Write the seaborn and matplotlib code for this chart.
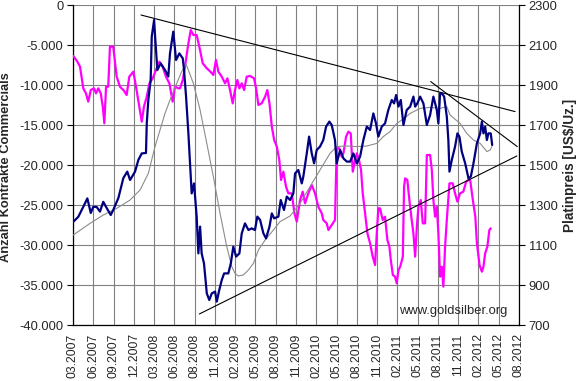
import matplotlib
matplotlib.use("Agg")
import matplotlib.pyplot as plt
import seaborn as sns
import numpy as np

sns.set_style("white")
plt.rcParams['font.family'] = ['Liberation Sans', 'DejaVu Sans']

# ---------------- data (x = week index; one tick label every 13 weeks) ----------------
tick_labels = ["03.2007", "06.2007", "09.2007", "12.2007", "03.2008", "06.2008", "08.2008",
               "11.2008", "02.2009", "05.2009", "08.2009", "11.2009", "02.2010", "05.2010",
               "08.2010", "11.2010", "02.2011", "05.2011", "08.2011", "11.2011", "02.2012",
               "05.2012", "08.2012"]
weeks_per_tick = 13

# Platinum price (right axis, US$/oz)
price_weeks = [0.2, 3.4, 6.6, 9.2, 11.4, 13.0, 15.2, 17.3, 19.4, 21.6, 24.2, 25.8, 29.1, 32.3,
               34.8, 36.6, 39.8, 41.9, 44.1, 46.8, 47.3, 48.3, 49.8, 50.5, 52.0, 52.8, 54.1,
               56.2, 59.0, 61.1, 62.2, 64.3, 66.1, 68.2, 70.4, 71.2, 72.5, 74.0, 76.1, 77.6,
               79.3, 80.4, 81.5, 82.5, 84.0, 85.8, 87.4, 89.0, 91.1, 92.2, 93.8, 95.4, 96.9,
               99.6, 101.2, 102.8, 104.6, 106.7, 108.2, 110.3, 112.5, 114.6, 116.7, 118.2,
               120.0, 122.1, 123.8, 126.0, 127.5, 129.0, 131.7, 133.2, 135.3, 137.1, 139.2,
               141.3, 142.4, 144.5, 146.7, 147.7, 149.9, 151.4, 153.1, 154.6, 156.3, 158.4,
               160.5, 162.3, 164.4, 165.9, 168.0, 169.1, 171.3, 173.4, 175.6, 177.7, 179.8,
               182.0, 184.1, 186.2, 188.4, 190.5, 192.6, 194.3, 195.8, 198.0, 200.1, 202.2,
               204.4, 205.9, 207.2, 208.7, 210.2, 211.9, 214.0, 216.2, 218.3, 219.4, 220.8,
               222.6, 224.7, 226.9, 229.0, 231.1, 233.3, 234.3, 235.4, 236.5, 238.0, 239.7,
               240.7, 241.4, 242.9, 245.0, 246.5, 247.8, 249.3, 251.5, 253.6, 255.1, 256.8,
               259.0, 261.1, 262.2, 263.2, 264.3, 265.4, 266.4, 267.9, 268.8]
price_values = [1216, 1241, 1291, 1333, 1260, 1291, 1290, 1267, 1316, 1285, 1250, 1275, 1335, 1435,
                1467, 1425, 1467, 1525, 1558, 1560, 1708, 1825, 1925, 2142, 2225, 2125, 1975,
                2008, 1975, 1942, 2058, 2167, 2025, 2058, 2033, 1975, 1842, 1658, 1358, 1408,
                1242, 1058, 1192, 1058, 1008, 858, 825, 858, 867, 817, 875, 925, 958,
                958, 1008, 1092, 1042, 1058, 1158, 1208, 1175, 1183, 1175, 1242,
                1225, 1158, 1133, 1192, 1258, 1233, 1242, 1325, 1275, 1342, 1325,
                1358, 1458, 1475, 1408, 1442, 1558, 1642, 1558, 1508, 1575, 1592,
                1625, 1692, 1717, 1700, 1625, 1508, 1575, 1533, 1517, 1517, 1558,
                1508, 1542, 1625, 1692, 1675, 1758, 1708, 1642, 1692, 1708, 1775,
                1825, 1808, 1850, 1792, 1825, 1700, 1775, 1792, 1842, 1792, 1808,
                1842, 1808, 1700, 1750, 1842, 1775, 1708, 1858, 1858, 1842, 1742,
                1625, 1467, 1525, 1592, 1658, 1642, 1567, 1508, 1433, 1442, 1508,
                1608, 1658, 1717, 1658, 1692, 1625, 1658, 1658, 1600]

# Moving average of the price (right axis)
ma_weeks = [0.2, 10.9, 19.4, 28.0, 36.6, 43.0, 48.3, 52.6, 55.8, 59.0, 62.2, 66.5, 69.7, 72.5,
            77.2, 81.5, 85.8, 90.0, 94.3, 98.6, 101.8, 103.9, 106.0, 109.2, 112.5, 115.7,
            118.9, 123.2, 128.5, 132.8, 139.2, 145.6, 152.0, 158.4, 164.8, 169.1, 175.6,
            182.0, 188.4, 194.8, 199.0, 203.3, 207.6, 211.9, 216.2, 222.6, 229.0, 235.4,
            239.7, 241.8, 248.2, 252.5, 256.8, 261.1, 265.4, 267.5, 268.6]
ma_values = [1150, 1208, 1250, 1283, 1325, 1375, 1458, 1592, 1675, 1758, 1825, 1908, 1967, 2005,
             1908, 1775, 1608, 1442, 1258, 1092, 992, 958, 945, 950, 975, 1008,
             1075, 1125, 1175, 1217, 1245, 1308, 1392, 1475, 1558, 1592, 1595,
             1592, 1595, 1608, 1642, 1667, 1708, 1730, 1758, 1783, 1788, 1783,
             1792, 1750, 1708, 1658, 1625, 1608, 1567, 1575, 1592]

# Net position of commercials (left axis, contracts)
comm_weeks = [0.2, 2.8, 4.5, 6.6, 8.3, 9.8, 11.4, 13.5, 14.8, 16.2, 17.8, 19.1, 20.1, 21.2, 22.6,
              23.7, 25.8, 28.0, 30.1, 32.3, 34.4, 36.1, 38.7, 40.4, 42.5, 44.1, 45.5, 47.3,
              49.0, 51.1, 53.2, 55.4, 57.5, 59.6, 61.8, 63.9, 65.4, 67.5, 68.6, 70.4, 71.8,
              74.0, 75.5, 77.2, 79.3, 81.0, 83.2, 85.8, 88.1, 90.0, 91.7, 93.2, 95.4, 97.5,
              99.0, 100.7, 102.4, 103.9, 105.4, 106.7, 108.2, 109.7, 111.4, 113.5, 116.1,
              117.4, 118.9, 121.0, 123.2, 124.6, 126.0, 127.5, 129.0, 130.7, 132.3, 133.4,
              134.9, 136.6, 138.1, 140.3, 142.0, 143.5, 145.6, 147.3, 148.8, 150.9, 153.1,
              155.2, 157.3, 159.5, 160.5, 162.7, 163.8, 165.9, 168.0, 169.1, 170.8, 172.3,
              173.4, 175.1, 176.6, 178.1, 179.4, 180.9, 182.0, 183.4, 184.7, 185.8, 187.3,
              188.8, 190.5, 192.2, 193.7, 194.8, 195.8, 196.9, 198.6, 200.1, 201.6, 202.9,
              203.8, 205.1, 206.5, 207.6, 208.7, 209.8, 210.4, 211.5, 212.3, 213.0, 214.4,
              215.7, 217.2, 218.3, 219.4, 220.5, 221.5, 223.0, 224.3, 225.8, 226.9, 229.0,
              230.1, 231.1, 232.2, 233.3, 234.3, 235.4, 236.5, 237.5, 238.6, 239.7, 241.4,
              243.5, 245.0, 246.5, 248.2, 250.3, 252.1, 253.6, 254.7, 256.4, 258.0, 259.0,
              260.7, 262.2, 263.2, 264.3, 265.7, 267.0, 267.9]
comm_values = [-6375, -7083, -7708, -10417, -11042, -12083, -10625, -10417, -11042, -10417, -11042,
               -12708, -14792, -10208, -10208, -5208, -5208, -8958, -10208, -10625, -11250, -8958,
               -8333, -10208, -12708, -14583, -12708, -11458, -9792, -9167, -8125, -7083, -7708,
               -8958, -9792, -12083, -10208, -10417, -10417, -9375, -7708, -4792, -3125, -3750,
               -3750, -5208, -7292, -7917, -8333, -8750, -6875, -8333, -8958, -9792, -9167,
               -10625, -12292, -10625, -9375, -10417, -9792, -10625, -8958, -8875, -9167,
               -10417, -12500, -12292, -11458, -10625, -12292, -15208, -16875, -17708, -19375,
               -21875, -20833, -22708, -23542, -23542, -26042, -27083, -24375, -23333, -24792,
               -23542, -22500, -23542, -25208, -26042, -26875, -27292, -28125, -27500, -26875,
               -17917, -17917, -18958, -18542, -16458, -15833, -16042, -20833, -19375, -18542,
               -19375, -20625, -23542, -26042, -28542, -29792, -31458, -32500, -28542, -25417,
               -25417, -26875, -26458, -29375, -30208, -31875, -33750, -33958, -34792, -33125,
               -32708, -32292, -31458, -22708, -21667, -21875, -24375, -26875, -28542, -31458,
               -27708, -25208, -24375, -27292, -27292, -18750, -18750, -20625, -24375, -26458,
               -25208, -28542, -33958, -32708, -35208, -30208, -26875, -22292, -22292, -23542,
               -24583, -23542, -23333, -22083, -21875, -21875, -24375, -26458, -29792, -32500,
               -33333, -32708, -31042, -30208, -28125, -27917]

# Trend lines (price axis): start/end week and price
trend_upper_weeks, trend_upper_prices = [43.6, 283.5], [2250, 1767]
trend_lower_weeks, trend_lower_prices = [81.0, 284.6], [755, 1545]
trend_short_weeks, trend_short_prices = [229.4, 284.9], [1917, 1592]

# ---------------- figure ----------------
W, H = 577, 381
fig = plt.figure(figsize=(W / 100, H / 100), dpi=100)
ax = fig.add_axes([73 / W, 1 - 325 / H, 446 / W, 320 / H])
ax2 = ax.twinx()

FS = 9.3
grid_c = "#808080"

# left axis: commercials
sns.lineplot(x=comm_weeks, y=comm_values, ax=ax, color="#FF00FF", linewidth=1.6,
             estimator=None, sort=False, legend=False, zorder=3)
ax.set_ylim(-40000, 0)
ax.set_yticks(np.arange(-40000, 1, 5000))
ax.set_yticklabels([f"{v:,.0f}".replace(",", ".") for v in np.arange(-40000, 1, 5000)],
                   fontsize=FS)
n_ticks = len(tick_labels)
xt = np.arange(n_ticks) * weeks_per_tick
ax.set_xlim(0, xt[-1])
ax.set_xticks(xt)
ax.set_xticklabels(tick_labels, rotation=90, fontsize=8.7)
ax.grid(True, color=grid_c, linewidth=0.8)
ax.set_axisbelow(True)
ax.tick_params(axis="y", direction="out", length=4, width=0.8, color="black", pad=3)
ax.tick_params(axis="x", direction="out", length=4, width=0.8, color="black", pad=2)
ax.set_ylabel("")
ax.set_xlabel("")

# right axis: price
sns.lineplot(x=ma_weeks, y=ma_values, ax=ax2, color="#8c8c8c", linewidth=0.8,
             estimator=None, sort=False, legend=False)
for tw, tp in [(trend_upper_weeks, trend_upper_prices),
               (trend_lower_weeks, trend_lower_prices),
               (trend_short_weeks, trend_short_prices)]:
    sns.lineplot(x=tw, y=tp, ax=ax2, color="black", linewidth=0.8,
                 estimator=None, sort=False, legend=False)
sns.lineplot(x=price_weeks, y=price_values, ax=ax2, color="#000080", linewidth=1.6,
             estimator=None, sort=False, legend=False)
ax2.set_ylim(700, 2300)
ax2.set_yticks(np.arange(700, 2301, 200))
ax2.set_yticklabels([str(v) for v in np.arange(700, 2301, 200)], fontsize=FS)
ax2.tick_params(axis="y", direction="out", length=4, width=0.8, color="black", pad=3)
ax2.set_ylabel("")
ax2.grid(False)

for a in (ax, ax2):
    a.spines["top"].set_visible(False)
    for s in ("left", "right", "bottom"):
        a.spines[s].set_color("black")
        a.spines[s].set_linewidth(0.9)
ax.spines["right"].set_visible(False)
ax2.spines["left"].set_visible(False)
ax2.spines["bottom"].set_visible(False)

fig.text(6.5 / W, 1 - 167 / H, "Anzahl Kontrakte Commercials", rotation=90,
         ha="center", va="center", fontsize=FS, fontweight="bold")
fig.text(570 / W, 1 - 165 / H, "Platinpreis [US$/Uz.]", rotation=90,
         ha="center", va="center", fontsize=FS + 0.5, fontweight="bold")
ax.text(0.852, 0.043, "www.goldsilber.org", transform=ax.transAxes, ha="center",
        va="center", fontsize=9.4, zorder=5)

fig.savefig("out.png", dpi=100, facecolor="white")
